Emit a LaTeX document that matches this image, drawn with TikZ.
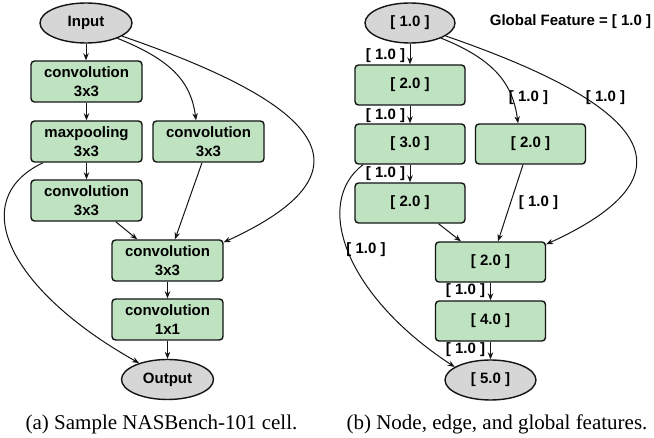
\documentclass[tikz,border=0pt]{standalone}
\usepackage{fontspec}
\setmainfont{Liberation Serif}
\newfontfamily\sansf{Liberation Sans}
\usetikzlibrary{shapes.geometric,arrows.meta}
\definecolor{boxgreen}{RGB}{191,227,192}
\definecolor{ellgray}{RGB}{214,214,214}
\definecolor{edgecol}{RGB}{20,20,20}
\begin{document}
\begin{tikzpicture}[x=1pt,y=-1pt,
  box/.style={draw=edgecol, line width=1.4pt, fill=boxgreen, rounded corners=3.5pt,
    minimum width=111pt, minimum height=41pt, inner sep=0pt, align=center,
    font=\sansf\bfseries\fontsize{15}{19}\selectfont},
  bbox/.style={box, minimum width=110pt, minimum height=40pt},
  ell/.style={ellipse, draw=edgecol, line width=1.4pt, fill=ellgray,
    minimum width=92pt, minimum height=40pt, inner sep=0pt,
    font=\sansf\bfseries\fontsize{15}{19}\selectfont},
  arr/.style={draw=edgecol, -{Stealth[length=7pt,width=5.5pt]}, line width=1pt},
  lab/.style={font=\sansf\bfseries\fontsize{15}{18}\selectfont, inner sep=0pt},
  captext/.style={font=\fontsize{21}{24}\selectfont, inner sep=0pt, anchor=base}]
\path[use as bounding box, fill=white] (0,0) rectangle (654,438);

% ---------- (a) ----------
\node[ell] (in) at (86,23) {Input};
\node[box] (c1) at (86.5,81.5) {convolution\\3x3};
\node[box] (mp) at (86.5,141.5) {maxpooling\\3x3};
\node[box] (cr) at (208.5,141.5) {convolution\\3x3};
\node[box] (c3) at (86.5,200.5) {convolution\\3x3};
\node[box] (cc) at (167.5,260.5) {convolution\\3x3};
\node[box] (c11) at (167.5,319.5) {convolution\\1x1};
\node[ell] (out) at (167.5,379.5) {Output};

\draw[arr] (in.south) -- (in.south |- c1.north);
\draw[arr] (c1) -- (mp);
\draw[arr] (mp) -- (c3);
\draw[arr] (cc) -- (c11);
\draw[arr] (c11) -- (out);
\draw[arr] (in.-26) .. controls +(55,22) and +(-5,-38) .. ([xshift=-12.5pt]cr.north);
\draw[arr] (in.-20) .. controls +(168,58) and +(175,-80) .. ([yshift=-3pt]cc.north east);
\draw[arr] (mp.206) .. controls +(-79,38) and +(-128,-72) .. (out.150);
\draw[arr] (c3.-36) -- (cc.145);
\draw[arr] ([xshift=-6.5pt]cr.south) -- ([xshift=7.5pt]cc.north);

\node[captext] (capa) at (161.5,430) {(a) Sample NASBench-101 cell.};

% ---------- (b) ----------
\node[ell, minimum width=90pt] (bin) at (410,23) {[ 1.0 ]};
\node[bbox] (b1) at (410,85) {[ 2.0 ]};
\node[bbox] (b2) at (410,144) {[ 3.0 ]};
\node[bbox] (br) at (530.5,144) {[ 2.0 ]};
\node[bbox] (b3) at (410,203) {[ 2.0 ]};
\node[bbox] (bc) at (490.5,262) {[ 2.0 ]};
\node[bbox] (b4) at (490.5,321) {[ 4.0 ]};
\node[ell, minimum width=91pt] (bout) at (490.5,380) {[ 5.0 ]};

\node[lab] (gf) at (570.5,22) {Global Feature = [ 1.0 ]};

\draw[arr] (bin.south) -- (b1.north);
\draw[arr] (b1) -- (b2);
\draw[arr] (b2) -- (b3);
\draw[arr] (bc) -- (b4);
\draw[arr] (b4) -- (bout);
\draw[arr] (bin.-26) .. controls +(55,22) and +(-5,-38) .. ([xshift=-12.5pt]br.north);
\draw[arr] (bin.-20) .. controls +(168,58) and +(175,-80) .. ([yshift=-3pt]bc.north east);
\draw[arr] ([xshift=-47pt]b2.south) .. controls +(-50,38) and +(-110,-72) .. (bout.160);
\draw[arr] (b3.-36) -- (bc.145);
\draw[arr] ([xshift=-7.5pt]br.south) -- ([xshift=7.5pt]bc.north);

\node[lab] (l1) at (385.5,55.5) {[ 1.0 ]};
\node[lab] (l2) at (385.5,115.5) {[ 1.0 ]};
\node[lab] (l3) at (385.5,174) {[ 1.0 ]};
\node[lab] (l4) at (528.5,97.5) {[ 1.0 ]};
\node[lab] (l5) at (605.5,97.5) {[ 1.0 ]};
\node[lab] (l6) at (538.5,203) {[ 1.0 ]};
\node[lab] (l7) at (366,250) {[ 1.0 ]};
\node[lab] (l8) at (465.5,291) {[ 1.0 ]};
\node[lab] (l9) at (465.5,350) {[ 1.0 ]};

\node[captext] (capb) at (497,430) {(b) Node, edge, and global features.};
\end{tikzpicture}
\end{document}
